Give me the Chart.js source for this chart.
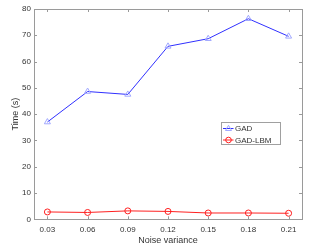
<!DOCTYPE html>
<html>
<head>
<meta charset="utf-8">
<script src="https://cdn.jsdelivr.net/npm/chart.js@4/dist/chart.umd.min.js"></script>
<style>
  html, body { margin: 0; padding: 0; background: #fff; }
  #wrap { width: 330px; height: 251px; }
</style>
</head>
<body>
<div id="wrap"><canvas id="myChart" width="330" height="251"></canvas></div>
<script>
// data
let variances = [0.03, 0.06, 0.09, 0.12, 0.15, 0.18, 0.21];
let gadTime = [37.0, 48.6, 47.5, 65.8, 68.7, 76.3, 69.6];
let lbmTime = [2.8, 2.6, 3.2, 3.0, 2.4, 2.4, 2.3];
let yTicks = [0, 10, 20, 30, 40, 50, 60, 70, 80];

let axisColor = "#9a9a9a";
let textColor = "#333";
let fontFam = "'Liberation Sans', Arial, sans-serif";

// box around the axes, small inward ticks, legend like matlab
const matlabBox = {
  id: "matlabBox",
  afterDraw(chart) {
    let ctx = chart.ctx;
    let a = chart.chartArea;
    let xs = chart.scales.x, ys = chart.scales.y;
    ctx.save();
    ctx.strokeStyle = axisColor;
    ctx.lineWidth = 1;
    ctx.strokeRect(Math.round(a.left) + 0.5, Math.round(a.top) + 0.5,
      Math.round(a.right - a.left), Math.round(a.bottom - a.top));
    ctx.beginPath();
    variances.forEach(v => {
      let x = Math.round(xs.getPixelForValue(v)) + 0.5;
      ctx.moveTo(x, a.bottom); ctx.lineTo(x, a.bottom - 3);
      ctx.moveTo(x, a.top); ctx.lineTo(x, a.top + 3);
    });
    yTicks.forEach(v => {
      let y = Math.round(ys.getPixelForValue(v)) + 0.5;
      ctx.moveTo(a.left, y); ctx.lineTo(a.left + 3, y);
      ctx.moveTo(a.right, y); ctx.lineTo(a.right - 3, y);
    });
    ctx.stroke();

    // legend
    let lx = 221.5, ly = 122.5, lw = 59, lh = 22;
    ctx.fillStyle = "#fff";
    ctx.fillRect(lx, ly, lw, lh);
    ctx.strokeStyle = "#a0a0a0";
    ctx.strokeRect(lx, ly, lw, lh);
    ctx.font = "8px " + fontFam;
    ctx.textBaseline = "middle";
    chart.data.datasets.forEach((ds, i) => {
      let y = ly + 6 + i * 11.5;
      ctx.strokeStyle = ds.borderColor;
      ctx.beginPath();
      ctx.moveTo(lx + 1.5, y); ctx.lineTo(lx + 12, y);
      ctx.stroke();
      ctx.strokeStyle = ds.pointBorderColor;
      ctx.beginPath();
      if (ds.pointStyle === "circle") {
        ctx.arc(lx + 7, y, 2.8, 0, Math.PI * 2);
      } else {
        ctx.moveTo(lx + 7, y - 3.2); ctx.lineTo(lx + 10, y + 2); ctx.lineTo(lx + 4, y + 2); ctx.closePath();
      }
      ctx.stroke();
      ctx.fillStyle = textColor;
      ctx.fillText(ds.label, lx + 13.5, y + 0.5);
    });
    ctx.restore();
  }
};

let ctx = document.getElementById("myChart").getContext("2d");

new Chart(ctx, {
  type: "line",
  data: {
    datasets: [{
      label: "GAD",
      data: variances.map((v, i) => ({ x: v, y: gadTime[i] })),
      borderColor: "#3030ff",
      borderWidth: 1,
      pointStyle: "triangle",
      pointRadius: 3.5,
      pointBorderColor: "#a0a8ff",
      pointBackgroundColor: "rgba(255,255,255,0)",
      pointBorderWidth: 1
    }, {
      label: "GAD-LBM",
      data: variances.map((v, i) => ({ x: v, y: lbmTime[i] })),
      borderColor: "#ff2020",
      borderWidth: 1,
      pointStyle: "circle",
      pointRadius: 3,
      pointBorderColor: "#ff2020",
      pointBackgroundColor: "rgba(255,255,255,0)",
      pointBorderWidth: 1
    }]
  },
  options: {
    responsive: false,
    animation: false,
    events: [],
    layout: { padding: { left: 0, top: 9, right: 28, bottom: 0 } },
    plugins: { legend: { display: false }, tooltip: { enabled: false } },
    scales: {
      x: {
        type: "linear",
        min: 0.02,
        max: 0.22,
        afterBuildTicks: s => { s.ticks = variances.map(v => ({ value: v })); },
        afterFit: s => { s.height = 31.7; },
        grid: { display: false, drawTicks: false },
        border: { display: false },
        ticks: {
          color: textColor,
          font: { family: fontFam, size: 8 },
          padding: 6,
          maxRotation: 0,
          callback: v => v.toFixed(2)
        },
        title: {
          display: true,
          text: "Noise variance",
          color: textColor,
          font: { family: fontFam, size: 9 },
          padding: { top: 0, bottom: 5 }
        }
      },
      y: {
        min: 0,
        max: 80,
        afterBuildTicks: s => { s.ticks = yTicks.map(v => ({ value: v })); },
        afterFit: s => { s.width = 34; },
        grid: { display: false, drawTicks: false },
        border: { display: false },
        ticks: {
          color: textColor,
          font: { family: fontFam, size: 8 },
          padding: 3
        },
        title: {
          display: true,
          text: "Time (s)",
          color: textColor,
          font: { family: fontFam, size: 9 },
          padding: { top: 10, bottom: 0 }
        }
      }
    }
  },
  plugins: [matlabBox]
});
</script>
</body>
</html>
